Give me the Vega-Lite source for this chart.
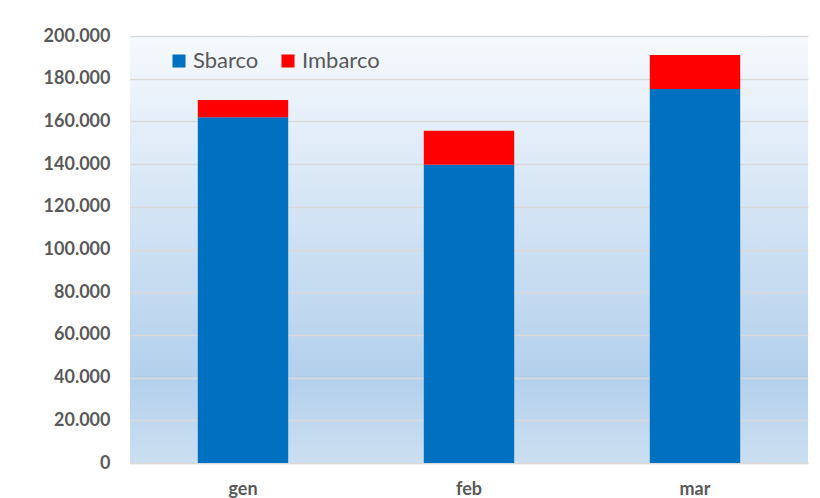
{
  "$schema": "https://vega.github.io/schema/vega-lite/v6.json",
  "autosize": {"type": "none"},
  "width": 678,
  "height": 427,
  "padding": {"left": 130, "top": 36, "right": 12, "bottom": 35},
  "background": "white",
  "config": {
    "view": {
      "stroke": null,
      "fill": {
        "gradient": "linear",
        "x1": 0, "y1": 0, "x2": 0, "y2": 1,
        "stops": [
          {"offset": 0, "color": "#F6F9FD"},
          {"offset": 0.8, "color": "#B3D0EC"},
          {"offset": 1, "color": "#CCDFF1"}
        ]
      }
    },
    "font": "Lato"
  },
  "data": {
    "values": [
      {"mese": "gen", "serie": "Sbarco", "valore": 162000},
      {"mese": "gen", "serie": "Imbarco", "valore": 8000},
      {"mese": "feb", "serie": "Sbarco", "valore": 139700},
      {"mese": "feb", "serie": "Imbarco", "valore": 15900},
      {"mese": "mar", "serie": "Sbarco", "valore": 175200},
      {"mese": "mar", "serie": "Imbarco", "valore": 15900}
    ]
  },
  "mark": {"type": "bar"},
  "encoding": {
    "x": {
      "field": "mese",
      "type": "nominal",
      "sort": ["gen", "feb", "mar"],
      "scale": {"paddingInner": 0.6, "paddingOuter": 0.3},
      "axis": {
        "title": null,
        "labelAngle": 0,
        "ticks": false,
        "domainColor": "#D9D9D9",
        "domainWidth": 1.5,
        "labelFont": "Lato",
        "labelFontWeight": "bold",
        "labelFontSize": 18,
        "labelColor": "#595959",
        "labelPadding": 17,
        "labelBaseline": "top"
      }
    },
    "y": {
      "field": "valore",
      "type": "quantitative",
      "stack": "zero",
      "scale": {"domain": [0, 200000], "nice": false},
      "axis": {
        "title": null,
        "values": [0, 20000, 40000, 60000, 80000, 100000, 120000, 140000, 160000, 180000, 200000],
        "labelExpr": "replace(format(datum.value, ',d'), /,/g, '.')",
        "ticks": false,
        "domain": false,
        "grid": true,
        "gridColor": "#D9D9D9",
        "gridWidth": 1.7,
        "labelFont": "Lato",
        "labelFontWeight": "bold",
        "labelFontSize": 18,
        "labelColor": "#595959",
        "labelPadding": 20
      }
    },
    "color": {
      "field": "serie",
      "type": "nominal",
      "scale": {"domain": ["Sbarco", "Imbarco"], "range": ["#0070C0", "#FF0000"]},
      "legend": {
        "title": null,
        "orient": "none",
        "legendX": 38,
        "legendY": 14,
        "direction": "horizontal",
        "symbolType": "square",
        "symbolSize": 170,
        "symbolStrokeWidth": 0,
        "labelFont": "Lato",
        "labelFontSize": 22,
        "labelColor": "#595959",
        "labelOffset": 3,
        "columnPadding": 18
      }
    },
    "order": {"field": "serie", "sort": "descending"}
  }
}
